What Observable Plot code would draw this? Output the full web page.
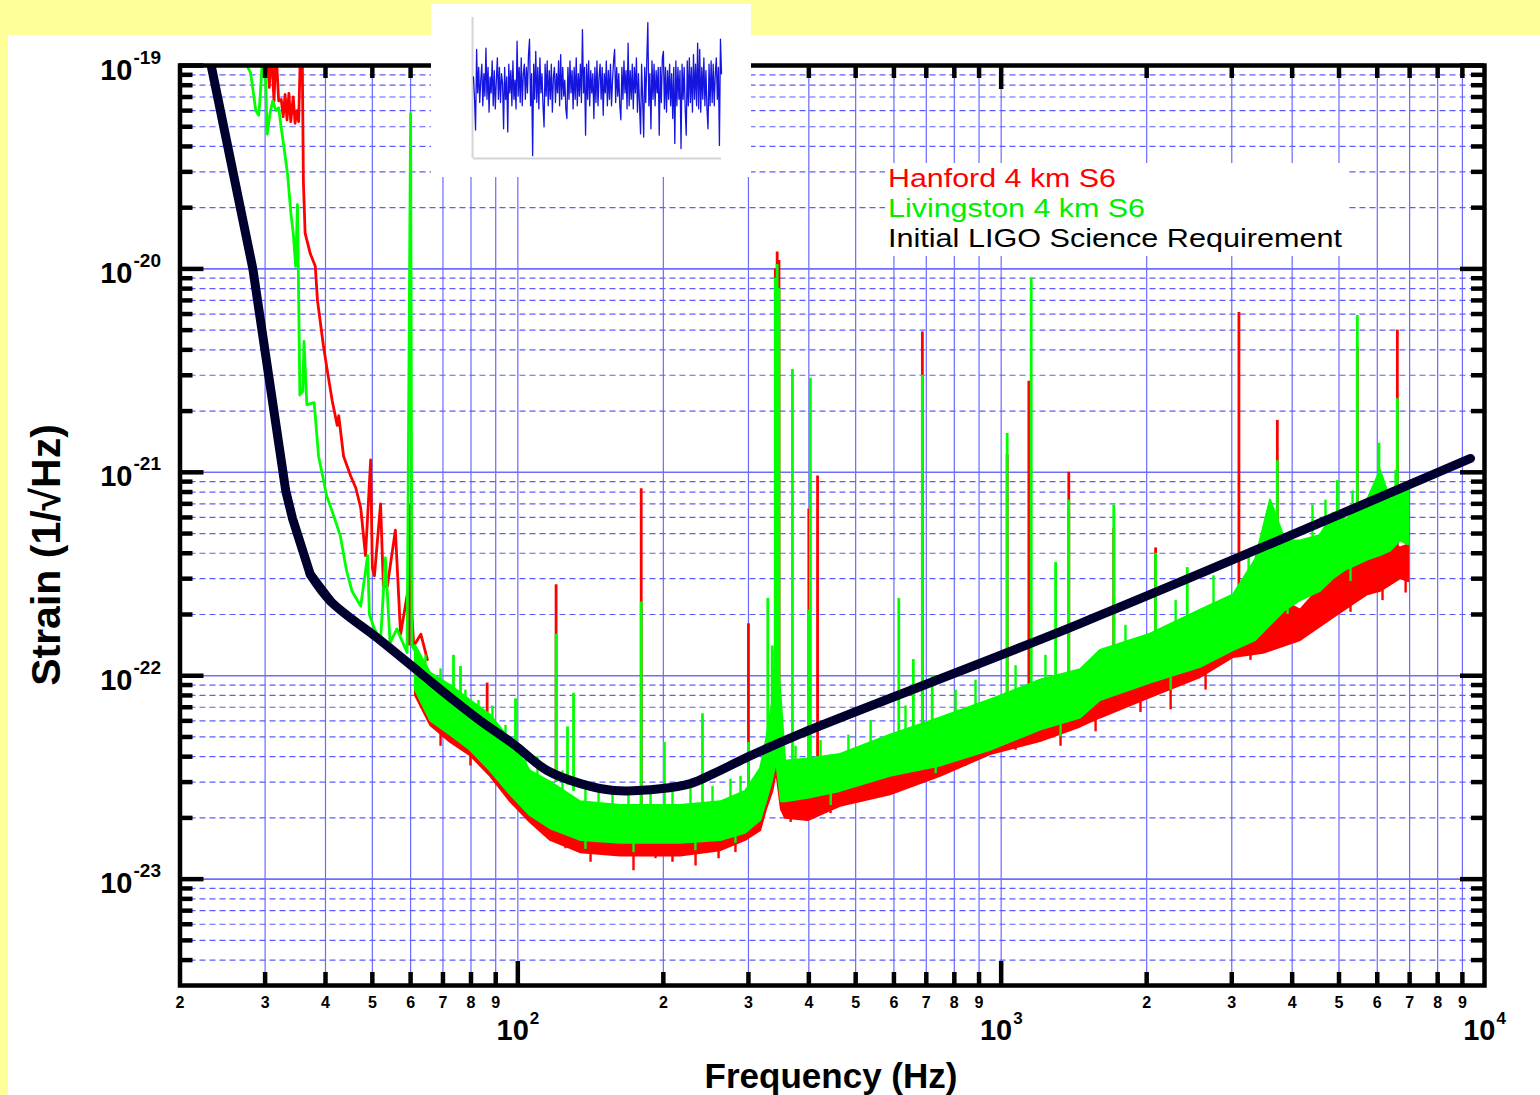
<!DOCTYPE html>
<html>
<head>
<meta charset="utf-8">
<script src="https://cdn.jsdelivr.net/npm/d3@7"></script>
<script src="https://cdn.jsdelivr.net/npm/@observablehq/plot@0.6"></script>
<style>
  html, body { margin: 0; padding: 0; background: #ffff99; }
  #wrap { position: relative; width: 1540px; height: 1095px; overflow: hidden; background: #ffff99;
          font-family: "Liberation Sans", Arial, sans-serif; }
  #panel { position: absolute; left: 8px; top: 35px; width: 1532px; height: 1060px; background: #ffffff; }
  #chart { position: absolute; left: 0; top: 0; }
  #overlay { position: absolute; left: 0; top: 0; }
  #inset { position: absolute; left: 431px; top: 4px; width: 320px; height: 173px; background: #ffffff; }
</style>
</head>
<body>
<div id="wrap">
  <div id="panel"></div>
  <div id="chart"></div>
  <svg id="overlay" width="1540" height="1095"></svg>
  <div id="inset"></div>
</div>
<script>
// ---------------- data ----------------
const freqGridMinor = [30,40,50,60,70,80,90,200,300,400,500,600,700,800,900,2000,3000,4000,5000,6000,7000,8000,9000];
const freqGridMajor = [100,1000];
const freqLabelVals = [20,30,40,50,60,70,80,90,200,300,400,500,600,700,800,900,2000,3000,4000,5000,6000,7000,8000,9000];
const freqLabelText = ["2","3","4","5","6","7","8","9","2","3","4","5","6","7","8","9","2","3","4","5","6","7","8","9"];
const freqDecadeVals = [100,1000,10000];
const freqDecadeExp = ["2","3","4"];
const strainDecades = [1e-19,1e-20,1e-21,1e-22,1e-23];
const strainDecadeExp = ["-19","-20","-21","-22","-23"];
const strainMantissas = [2,3,4,5,6,7,8,9];
const strainMinorExps = [-20,-21,-22,-23,-24];

// Initial LIGO science requirement [Hz, strain]
const srd = [[23.0,1.2e-19],[23.2,1.0e-19],[28.3,1.0e-20],[33.1,8.1e-22],[34.2,5.9e-22],[37.2,3.15e-22],[41.0,2.32e-22],
  [52.0,1.49e-22],[62.9,1.03e-22],[72.6,7.8e-23],[83.7,6.0e-23],[98.1,4.6e-23],[115,3.42e-23],[134.8,2.95e-23],
  [158,2.73e-23],[197,2.78e-23],[227.6,2.95e-23],[254,3.30e-23],[300,4.0e-23],[384,5.18e-23],[1460,1.81e-22],[9358,1.17e-21]];

// Hanford low-frequency trace [Hz, strain]
const hanfordLow = [[30.3,1.2e-19],[30.6,7.8e-20],[30.9,1.2e-19],[31.3,6.7e-20],[31.6,1.2e-19],[32.0,6.7e-20],[32.4,6.8e-20],
  [32.7,5.6e-20],[33.0,7.2e-20],[33.3,5.4e-20],[33.6,7.3e-20],[33.9,5.3e-20],[34.3,7.0e-20],[34.6,5.2e-20],[34.9,6.0e-20],
  [35.2,5.3e-20],[35.5,1.2e-19],[35.8,1.2e-19],[36.0,2.7e-20],[36.3,1.5e-20],[37.2,1.19e-20],[38.1,1.03e-20],[38.5,7.0e-21],
  [39.6,4.2e-21],[40.4,3.1e-21],[41.3,2.25e-21],[42.3,1.7e-21],[42.6,1.9e-21],[43.6,1.2e-21],[45.1,9.6e-22],[46.2,8.4e-22],
  [47.3,6.7e-22],[48.4,3.9e-22],[49.6,1.15e-21],[50.0,3.4e-22],[50.5,3.1e-22],[52.0,7.0e-22],[52.7,2.75e-22],[53.7,2.75e-22],
  [55.8,5.2e-22],[57.2,1.6e-22],[59.8,3.0e-22],[60.9,1.4e-22],[63.0,1.6e-22],[65.0,1.2e-22]];

// Livingston low-frequency trace [Hz, strain]
const livingstonLow = [[27.3,1.2e-19],[27.5,1.0e-19],[28.0,9.2e-20],[28.7,6.0e-20],[29.1,5.7e-20],[29.3,7.0e-20],[29.7,1.2e-19],
  [30.05,8.7e-20],[30.3,4.6e-20],[30.7,5.8e-20],[31.1,6.7e-20],[31.6,6.0e-20],[32.0,6.2e-20],[32.3,5.2e-20],[32.8,4.0e-20],
  [33.4,2.9e-20],[33.9,1.9e-20],[34.3,1.5e-20],[34.7,1.03e-20],[35.0,2.07e-20],[35.2,7.2e-21],[35.4,2.4e-21],[35.9,2.5e-21],
  [36.1,4.4e-21],[36.6,2.15e-21],[37.9,2.2e-21],[38.7,1.2e-21],[39.6,9.2e-22],[40.2,7.7e-22],[41.5,6.2e-22],[42.9,4.9e-22],
  [44.2,3.3e-22],[45.4,2.6e-22],[47.3,2.2e-22],[48.9,3.9e-22],[49.3,2.0e-22],[50.5,1.7e-22],[52.0,1.5e-22],[53.2,3.8e-22],
  [54.4,1.45e-22],[56.2,1.7e-22],[59.0,1.3e-22],[60.0,5.8e-20],[60.4,1.4e-22],[63.0,1.2e-22]];

// noise bands [Hz, lower strain, upper strain]
const hanfordBand = [[61.4,8.0e-23,1.33e-22],[66.0,5.7e-23,1.0e-22],[72.6,4.7e-23,8.5e-23],[79.8,4.05e-23,7.1e-23],
  [87.8,3.2e-23,6.0e-23],[96.6,2.4e-23,4.5e-23],[106.2,1.9e-23,3.2e-23],[116.9,1.55e-23,2.7e-23],[134.8,1.35e-23,2.3e-23],
  [163.1,1.3e-23,2.2e-23],[217,1.3e-23,2.2e-23],[263,1.38e-23,2.3e-23],[296,1.55e-23,2.6e-23],[318,1.73e-23,3.2e-23],
  [327,2.2e-23,4.5e-23],[337,2.7e-23,7.1e-23],[343,3.4e-23,1.33e-22],[351,2.2e-23,6.0e-23],[358,1.99e-23,3.4e-23],
  [399,1.94e-23,3.5e-23],[465,2.28e-23,3.6e-23],[590,2.6e-23,4.3e-23],[749,3.2e-23,5.1e-23],[951,4.1e-23,6.0e-23],
  [1206,4.75e-23,7.55e-23],[1460,5.6e-23,8.5e-23],[1605,6.2e-23,1.06e-22],[2037,7.8e-23,1.1e-22],[2586,9.8e-23,1.33e-22],
  [3026,1.23e-22,1.6e-22],[3490,1.29e-22,2.6e-22],[4164,1.49e-22,2.1e-22],[4872,1.93e-22,3.2e-22],[5730,2.5e-22,5.0e-22],
  [6095,2.6e-22,4.6e-22],[6706,3.0e-22,4.25e-22],[6966,2.9e-22,4.4e-22]];

const livingstonBand = [[61.4,8.5e-23,1.41e-22],[66.0,6.0e-23,1.03e-22],[72.6,5.1e-23,8.95e-23],[79.8,4.3e-23,7.55e-23],
  [87.8,3.4e-23,6.4e-23],[96.6,2.6e-23,4.8e-23],[106.2,2.05e-23,3.4e-23],[116.9,1.77e-23,3.0e-23],[134.8,1.55e-23,2.4e-23],
  [163.1,1.5e-23,2.3e-23],[217,1.5e-23,2.3e-23],[263,1.55e-23,2.4e-23],[296,1.68e-23,2.7e-23],[318,1.94e-23,3.5e-23],
  [327,2.4e-23,4.8e-23],[337,3.1e-23,7.55e-23],[343,3.8e-23,1.49e-22],[351,2.4e-23,7.55e-23],[358,2.4e-23,3.8e-23],
  [399,2.5e-23,3.9e-23],[465,2.7e-23,4.1e-23],[590,3.2e-23,5.1e-23],[749,3.6e-23,6.2e-23],[951,4.3e-23,7.6e-23],
  [1206,5.4e-23,9.5e-23],[1460,6.2e-23,1.07e-22],[1605,7.55e-23,1.33e-22],[2037,9.2e-23,1.6e-22],[2586,1.1e-22,2.1e-22],
  [3026,1.33e-22,2.5e-22],[3360,1.49e-22,3.7e-22],[3608,1.77e-22,7.3e-22],[3876,2.1e-22,4.6e-22],[4164,2.34e-22,4.6e-22],
  [4579,2.6e-22,4.9e-22],[4872,3.0e-22,6.3e-22],[5160,3.3e-22,5.8e-22],[5730,3.7e-22,7.3e-22],[6095,3.9e-22,1.02e-21],
  [6394,4.1e-22,7.3e-22],[6706,4.6e-22,8.1e-22],[6966,4.4e-22,8.1e-22]];

// spectral lines [Hz, base strain, peak strain]
const hanfordLines = [[59.6,1.4e-22,7.0e-22],[86.4,6.5e-23,9.2e-23],[120,3.0e-23,2.8e-22],[180,2.3e-23,8.3e-22],
  [300,2.6e-23,1.8e-22],[341,4e-23,1.0e-20],[344,4e-23,1.21e-20],[347,4e-23,1.1e-20],[400,3.5e-23,6.6e-22],
  [417,3.5e-23,9.6e-22],[687,5.0e-23,4.9e-21],[1029,7e-23,1.22e-21],[1141,8e-23,2.8e-21],[1380,8.5e-23,1.0e-21],
  [1710,1.0e-22,5.3e-22],[2087,1.1e-22,4.25e-22],[3104,1.5e-22,6.1e-21],[3727,2.0e-22,1.8e-21],[5456,3.0e-22,4.1e-21],
  [6602,3.5e-22,5.0e-21]];

const livingstonLines = [[73.6,7.5e-23,1.26e-22],[76.1,7.1e-23,1.11e-22],[98.9,4.5e-23,7.7e-23],[120,3.0e-23,1.6e-22],
  [126.7,2.9e-23,5.6e-23],[130.4,2.7e-23,8.2e-23],[180,2.3e-23,2.3e-22],[201,2.3e-23,4.7e-23],[241,2.3e-23,6.5e-23],
  [300,2.6e-23,4.7e-23],[329,3.5e-23,2.4e-22],[336,5e-23,1.4e-22],[341,5e-23,9.0e-21],[344,5e-23,1.05e-20],[347,5e-23,8e-21],
  [370,3.5e-23,3.2e-21],[400,3.5e-23,2.1e-22],[403,3.5e-23,2.9e-21],[614,4.5e-23,2.4e-22],[658,5e-23,1.2e-22],
  [687,5e-23,3.0e-21],[720,5.5e-23,1.0e-22],[1029,8e-23,1.55e-21],[1154,8.5e-23,9.0e-21],[1296,9e-23,3.6e-22],
  [1380,1e-22,7.3e-22],[1710,1.2e-22,6.9e-22],[2087,1.5e-22,4.0e-22],[2427,1.8e-22,3.4e-22],[3727,2.5e-22,1.14e-21],
  [4960,3.5e-22,9.1e-22],[5456,3.5e-22,5.9e-21],[6048,4e-22,1.39e-21],[6602,4.5e-22,2.3e-21]];

// noise excursions beyond the band edges [Hz, inside strain, extreme strain]
const livingstonTips = [[64.4,9e-23,1.26e-22],[69.2,7e-23,1.08e-22],[77.9,5.5e-23,8.5e-23],[82.9,5e-23,7.55e-23],
  [88.6,4.5e-23,7.1e-23],[94.3,3.5e-23,5.7e-23],[103.7,2.8e-23,4.3e-23],[109.8,2.6e-23,4.0e-23],[123.7,2.2e-23,3.4e-23],
  [138,2.0e-23,3.0e-23],[146.9,2.0e-23,2.9e-23],[157,2.0e-23,2.7e-23],[169.4,2.0e-23,2.8e-23],[188.2,2.0e-23,2.85e-23],
  [208.9,2.0e-23,2.7e-23],[227.6,2.0e-23,2.8e-23],[252.8,2.0e-23,2.85e-23],[275.4,2.1e-23,3.1e-23],[288.9,2.2e-23,3.2e-23],
  [375.5,3e-23,4.5e-23],[423,3.1e-23,4.8e-23],[483,3.3e-23,5.1e-23],[537,3.6e-23,6.0e-23],[634,4e-23,7.1e-23],
  [805,5e-23,8.5e-23],[885,5.5e-23,9.5e-23],[1071,6.5e-23,1.12e-22],[1235,7e-23,1.26e-22],[1808,1.0e-22,1.77e-22],
  [2296,1.2e-22,2.34e-22],[2750,1.5e-22,3.1e-22],[3250,1.8e-22,3.9e-22],[4406,3e-22,6.9e-22],[4688,3.2e-22,7.3e-22],
  [5334,4e-22,8.1e-22],[6546,5e-22,1.02e-21]];

const livingstonDips = [[138,1.8e-23,1.4e-23],[173.5,1.8e-23,1.35e-23],[233,1.8e-23,1.38e-23],[282,2e-23,1.5e-23],
  [444,3e-23,2.3e-23],[732,4.5e-23,3.3e-23],[1327,6.5e-23,5e-23],[2242,1.1e-22,8.5e-23],[3914,2.6e-22,2.0e-22],
  [5282,3.8e-22,2.9e-22]];

const hanfordDips = [[69.2,6e-23,4.5e-23],[79.8,5e-23,3.6e-23],[90.4,4e-23,2.9e-23],[101.3,3e-23,2.2e-23],
  [114.1,2.2e-23,1.64e-23],[125.5,1.8e-23,1.41e-23],[141.4,1.6e-23,1.21e-23],[151.8,1.6e-23,1.35e-23],[173.5,1.6e-23,1.1e-23],
  [192.7,1.6e-23,1.26e-23],[208.9,1.6e-23,1.21e-23],[233.2,1.6e-23,1.16e-23],[260.2,1.6e-23,1.26e-23],[282,1.7e-23,1.35e-23],
  [366.8,2.4e-23,1.9e-23],[393.8,2.4e-23,1.94e-23],[443.6,2.6e-23,2.1e-23],[516,2.9e-23,2.4e-23],[610,3.2e-23,2.7e-23],
  [732,3.7e-23,3.2e-23],[844,4.2e-23,3.6e-23],[1071,5e-23,4.3e-23],[1327,5.5e-23,4.5e-23],[1568,6.5e-23,5.3e-23],
  [1942,8e-23,6.6e-23],[2242,8.5e-23,6.8e-23],[2648,1.05e-22,8.5e-23],[3280,1.4e-22,1.19e-22],[3914,1.7e-22,1.49e-22],
  [4579,2.1e-22,1.77e-22],[5282,2.4e-22,2.05e-22],[6152,2.8e-22,2.34e-22],[6868,3.1e-22,2.55e-22]];

// inset time series (arbitrary units)
const insetSignal = [0.15,-0.2,-0.68,0.58,-0.1,0.3,-0.25,0.1,0.35,-0.3,
  0.2,-0.15,0.6,-0.2,0.3,-0.4,0.15,-0.1,0.4,-0.3,
  0.25,-0.35,0.1,0.45,-0.2,0.3,-0.25,0.2,0.05,-0.66,
  0.3,-0.2,0.15,-0.71,0.35,-0.1,0.25,-0.3,0.4,-0.2,
  0.1,-0.35,0.71,-0.15,0.3,-0.25,0.45,-0.3,0.2,0.35,
  -0.2,0.3,-0.1,0.5,0.74,-0.3,0.2,-1.08,0.35,-0.2,
  0.55,-0.25,0.3,-0.35,0.45,-0.1,0.2,-0.3,-0.63,0.35,
  -0.15,0.4,-0.3,0.25,-0.2,0.35,-0.4,0.15,0.3,-0.25,
  0.2,-0.1,0.4,-0.3,0.5,-0.2,0.3,-0.15,0.1,-0.35,
  -0.5,0.3,-0.2,0.4,-0.1,0.25,-0.35,0.3,-0.2,0.45,
  -0.3,0.2,-0.15,0.35,-0.25,0.89,-0.1,0.3,-0.76,0.35,
  -0.2,0.4,-0.3,0.25,-0.1,0.2,-0.5,0.3,-0.25,0.4,
  -0.3,0.15,0.35,-0.2,0.3,-0.45,0.2,-0.1,0.4,-0.3,
  0.25,-0.2,0.35,-0.3,0.1,0.4,0.58,-0.25,0.3,-0.15,
  0.2,-0.3,-0.52,0.3,-0.2,0.4,-0.1,0.25,-0.35,0.68,
  -0.3,0.25,-0.2,0.35,-0.35,0.3,-0.1,0.45,-0.4,0.2,
  -0.3,-0.74,0.35,-0.2,-0.79,0.3,-0.25,0.4,1.0,-0.3,
  0.2,-0.66,0.4,-0.2,0.35,-0.3,0.25,-0.1,0.3,-0.76,
  0.3,-0.25,0.45,0.55,-0.35,0.3,-0.4,0.25,-0.2,0.35,
  -0.3,0.2,-0.5,0.3,-0.89,0.4,-0.3,0.3,-0.2,0.25,
  -0.97,0.35,-0.2,0.3,-0.35,-0.76,0.4,-0.3,0.45,-0.25,
  0.3,-0.4,0.5,-0.2,0.35,-0.3,0.68,-0.35,0.58,-0.4,
  0.3,-0.2,0.45,-0.3,0.25,-0.35,-0.66,0.35,-0.3,0.4,
  -0.25,0.35,-0.3,0.2,0.45,-0.2,0.3,-0.92,0.74,0.2];

// ---------------- layout ----------------
const W = 1540, H = 1095, mL = 179.5, mR = 56, mT = 65, mB = 110;
const X0 = 20, X1 = 10000, Y0 = 3e-24, Y1 = 1e-19;
const pxDecX = (W - mL - mR) / Math.log10(X1 / X0);
const pxDecY = (H - mT - mB) / Math.log10(Y1 / Y0);
const fy = px => Math.pow(10, px / pxDecY);
const fx = px => Math.pow(10, px / pxDecX);
const strainMinor = [];
for (const e of strainMinorExps) for (const m of strainMantissas) {
  const v = Number(m + "e" + e);
  if (v > Y0 * 1.01) strainMinor.push(v);
}
const font = "'Liberation Sans', Arial, sans-serif";
const RED = "#ff0000", GREEN = "#00ff00", NAVY = "#00002e";
const minorLen = 13, majorLen = 24, tickW = 4.5;
const seg = (data, color, w) => Plot.ruleX(data, {x: d => d[0], y1: d => d[1], y2: d => d[2], stroke: color, strokeWidth: w, clip: true});

const main = Plot.plot({
  width: W, height: H, marginLeft: mL, marginRight: mR, marginTop: mT, marginBottom: mB,
  x: {type: "log", domain: [X0, X1], axis: null},
  y: {type: "log", domain: [Y0, Y1], axis: null},
  style: {background: "transparent", fontFamily: font, color: "black", overflow: "visible"},
  marks: [
    // grid
    Plot.ruleX([...freqGridMinor, ...freqGridMajor], {x: d => d, stroke: "#6a6aff", strokeWidth: 1.2}),
    Plot.ruleY(strainMinor, {y: d => d, stroke: "#5c5cff", strokeWidth: 1.2, strokeDasharray: "6,4"}),
    Plot.ruleY(strainDecades, {y: d => d, stroke: "#6f6fff", strokeWidth: 1.6}),
    // Hanford
    Plot.areaY(hanfordBand, {x: d => d[0], y1: d => d[1], y2: d => d[2], fill: RED, stroke: RED, strokeWidth: 2, clip: true}),
    seg(hanfordDips, RED, 2.4),
    Plot.line(hanfordLow, {x: d => d[0], y: d => d[1], stroke: RED, strokeWidth: 2.8, clip: true}),
    seg(hanfordLines, RED, 2.8),
    // Livingston
    Plot.areaY(livingstonBand, {x: d => d[0], y1: d => d[1], y2: d => d[2], fill: GREEN, stroke: GREEN, strokeWidth: 2, clip: true}),
    seg(livingstonTips, GREEN, 2.4),
    seg(livingstonDips, GREEN, 2.4),
    Plot.line(livingstonLow, {x: d => d[0], y: d => d[1], stroke: GREEN, strokeWidth: 2.8, clip: true}),
    seg(livingstonLines, GREEN, 2.8),
    // requirement: steep seismic wall (straight) + smooth bucket
    Plot.line(srd, {filter: d => d[0] <= 41, x: d => d[0], y: d => d[1], stroke: NAVY, strokeWidth: 9,
      strokeLinejoin: "round", clip: true}),
    Plot.line(srd, {filter: d => d[0] >= 37.2, x: d => d[0], y: d => d[1], stroke: NAVY, strokeWidth: 9,
      strokeLinejoin: "round", curve: "catmull-rom", clip: true}),
    // frame
    Plot.frame({stroke: "black", strokeWidth: 4.5}),
    // x ticks bottom / top
    Plot.ruleX(freqGridMinor, {x: d => d, y1: Y0, y2: Y0 * fy(minorLen), stroke: "black", strokeWidth: tickW}),
    Plot.ruleX(freqGridMajor, {x: d => d, y1: Y0, y2: Y0 * fy(majorLen), stroke: "black", strokeWidth: tickW}),
    Plot.ruleX(freqGridMinor, {x: d => d, y1: Y1, y2: Y1 / fy(minorLen), stroke: "black", strokeWidth: tickW}),
    Plot.ruleX(freqGridMajor, {x: d => d, y1: Y1, y2: Y1 / fy(majorLen), stroke: "black", strokeWidth: tickW}),
    // y ticks left / right
    Plot.ruleY(strainMinor, {y: d => d, x1: X0, x2: X0 * fx(minorLen), stroke: "black", strokeWidth: tickW}),
    Plot.ruleY(strainDecades, {y: d => d, x1: X0, x2: X0 * fx(majorLen), stroke: "black", strokeWidth: tickW}),
    Plot.ruleY(strainMinor, {y: d => d, x1: X1, x2: X1 / fx(minorLen), stroke: "black", strokeWidth: tickW}),
    Plot.ruleY(strainDecades, {y: d => d, x1: X1, x2: X1 / fx(majorLen), stroke: "black", strokeWidth: tickW}),
    // x labels
    Plot.text(freqLabelVals, {x: d => d, y: Y0, text: freqLabelText, dy: 22, lineAnchor: "bottom",
      fontSize: 16, fontWeight: "bold", fill: "black"}),
    Plot.text(freqDecadeVals, {x: d => d, y: Y0, text: () => "10", textAnchor: "end", dx: 11, dy: 54,
      lineAnchor: "bottom", fontSize: 29, fontWeight: "bold", fill: "black"}),
    Plot.text(freqDecadeVals, {x: d => d, y: Y0, text: freqDecadeExp, textAnchor: "start", dx: 12, dy: 38,
      lineAnchor: "bottom", fontSize: 17, fontWeight: "bold", fill: "black"}),
    // y labels
    Plot.text(strainDecades, {x: X0, y: d => d, text: () => "10", textAnchor: "end", dx: -47.5, dy: 14,
      lineAnchor: "bottom", fontSize: 29, fontWeight: "bold", fill: "black"}),
    Plot.text(strainDecades, {x: X0, y: d => d, text: strainDecadeExp, textAnchor: "start", dx: -46.5, dy: -2,
      lineAnchor: "bottom", fontSize: 19, fontWeight: "bold", fill: "black"})
  ]
});
document.getElementById("chart").appendChild(main);

// overlay: titles and legend
const ov = d3.select("#overlay");
ov.append("rect").attr("x", 885).attr("y", 163).attr("width", 462).attr("height", 93).attr("fill", "#fff");
const legendItems = ["Hanford 4 km S6", "Livingston 4 km S6", "Initial LIGO Science Requirement"];
const legendColors = [RED, "#00ee00", "#000000"];
const legendWidths = [228, 257, 454];
legendItems.forEach((t, i) => {
  ov.append("text").attr("x", 888).attr("y", 186.7 + i * 30).attr("fill", legendColors[i])
    .attr("font-family", font).attr("font-size", 26.5)
    .attr("textLength", legendWidths[i]).attr("lengthAdjust", "spacingAndGlyphs").text(t);
});
ov.append("text").attr("transform", "translate(60,555) rotate(-90)").attr("text-anchor", "middle")
  .attr("font-family", font).attr("font-size", 41).attr("font-weight", "bold").text("Strain (1/\u221AHz)");
ov.append("text").attr("x", 831).attr("y", 1088).attr("text-anchor", "middle")
  .attr("font-family", font).attr("font-size", 35).attr("font-weight", "bold").text("Frequency (Hz)");

// inset signal
const inset = Plot.plot({
  width: 320, height: 173, marginLeft: 42, marginRight: 30, marginTop: 13, marginBottom: 19,
  x: {domain: [0, insetSignal.length - 1], axis: null},
  y: {domain: [-1.125, 1.08], axis: null},
  style: {background: "transparent"},
  marks: [
    Plot.ruleX([0], {stroke: "#d4d4d4", strokeWidth: 2, dx: -1}),
    Plot.ruleY([-1.125], {stroke: "#d4d4d4", strokeWidth: 2}),
    Plot.lineY(insetSignal, {stroke: "#1515e0", strokeWidth: 1.3})
  ]
});
document.getElementById("inset").appendChild(inset);
</script>
</body>
</html>
